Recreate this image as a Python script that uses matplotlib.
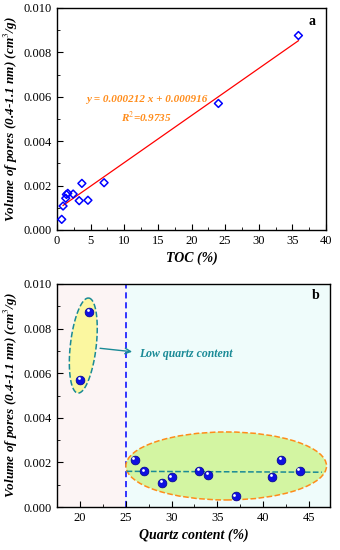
import numpy as np
from matplotlib import pyplot as plt
from matplotlib.patches import Ellipse, Polygon

plt.rcParams['font.family'] = ['Liberation Serif', 'DejaVu Serif']
plt.rcParams['mathtext.fontset'] = 'stix'

# panel a: TOC vs pore volume
toc = [0.7, 0.9, 1.3, 1.4, 1.6, 2.4, 3.3, 3.7, 4.6, 7.0, 24.0, 35.9]
vol_a = [0.00048, 0.00108, 0.00143, 0.00160, 0.00165, 0.00162,
         0.00132, 0.00210, 0.00134, 0.00213, 0.00570, 0.00876]
slope = 0.000212
intercept = 0.000916

# panel b: quartz content vs pore volume
quartz = [20, 21, 26, 27, 29, 30, 33, 34, 37, 41, 42, 44]
vol_b = [0.00570, 0.00875, 0.00210, 0.00160, 0.00108, 0.00133,
         0.00162, 0.00143, 0.00048, 0.00134, 0.00213, 0.00162]
high_quartz_mean = 0.00160

ylab = r'Volume of pores (0.4-1.1 nm) (cm$^{3}$/g)'
teal = '#1a8a96'
orange = '#ff8c1a'


def style_axes(ax):
    ax.tick_params(direction='in', which='both', labelsize=9, top=False, right=False)
    ax.tick_params(which='major', length=4)
    ax.tick_params(which='minor', length=2)
    for s in ax.spines.values():
        s.set_linewidth(1.0)
    ax.set_ylim(0, 0.010)
    ax.set_yticks(np.arange(0, 0.0101, 0.002))
    ax.set_yticks(np.arange(0, 0.0101, 0.001), minor=True)
    ax.yaxis.set_major_formatter(plt.FormatStrFormatter('%.3f'))


fig = plt.figure(figsize=(3.4, 5.5), dpi=100)

# ---- panel a
ax1 = fig.add_axes([57 / 340, 1 - 230 / 550, 269 / 340, 222 / 550])
style_axes(ax1)
ax1.set_xlim(0, 40)
ax1.set_xticks(np.arange(0, 41, 5))
ax1.set_xticks(np.arange(0, 41, 2.5), minor=True)
xl = np.array([min(toc) + 0.2, max(toc)])
ax1.plot(xl, slope * xl + intercept, color='red', lw=0.9, zorder=2)
ax1.scatter(toc, vol_a, marker='D', s=16, facecolors='none',
            edgecolors='blue', linewidths=1.1, zorder=3)
ax1.text(13.3, 0.00588, 'y = 0.000212 x + 0.000916', color=orange,
         fontsize=8, fontweight='bold', fontstyle='italic', ha='center', va='center')
ax1.text(13.3, 0.00508, r'R$^{2}$=0.9735', color=orange,
         fontsize=8, fontweight='bold', fontstyle='italic', ha='center', va='center')
ax1.text(0.96, 0.94, 'a', transform=ax1.transAxes, fontsize=10,
         fontweight='bold', ha='right', va='center')
ax1.set_xlabel('TOC (%)', fontsize=10, fontweight='bold', fontstyle='italic', labelpad=3)
ax1.set_ylabel(ylab, fontsize=9.5, fontweight='bold', fontstyle='italic', labelpad=3)

# ---- panel b
ax2 = fig.add_axes([57 / 340, 1 - 507 / 550, 273 / 340, 223 / 550])
style_axes(ax2)
ax2.set_xlim(17.6, 47.3)
ax2.set_xticks(np.arange(20, 46, 5))
ax2.set_xticks(np.arange(17.5, 47.4, 2.5), minor=True)
ax2.axvspan(17.6, 25, color='#fcf4f4', zorder=0)
ax2.axvspan(25, 47.3, color='#effcfb', zorder=0)
ax2.axvline(25, color='blue', ls=(0, (4, 2.5)), lw=1.1, zorder=1)

# tilted ellipse around the low-quartz samples
t = np.linspace(0, 2 * np.pi, 200)
cx, cy = 20.37, 0.00724
ax_a = np.array([0.60, 0.00213])
ax_b = np.array([1.40, -0.00007])
pts = np.column_stack([cx + np.cos(t) * ax_a[0] + np.sin(t) * ax_b[0],
                       cy + np.cos(t) * ax_a[1] + np.sin(t) * ax_b[1]])
ax2.add_patch(Polygon(pts, closed=True, facecolor='#fbf7a0', edgecolor=teal,
                      ls='--', lw=1.1, zorder=1))
ax2.add_patch(Ellipse((35.97, 0.00184), 21.9, 0.00305,
                      facecolor='#d3f5a2', edgecolor=orange, ls='--', lw=1.1, zorder=1))
ax2.plot([25.1, 46.4], [high_quartz_mean, high_quartz_mean - 0.00004], color=teal,
         ls='--', lw=1.1, zorder=2)
ax2.annotate('', xy=(26.0, 0.00695), xytext=(21.9, 0.00713),
             arrowprops=dict(arrowstyle='->', color=teal, lw=1.0), zorder=3)
ax2.text(26.5, 0.00686, 'Low quartz content', color=teal, fontsize=8.5,
         fontweight='bold', fontstyle='italic', ha='left', va='center')

ax2.scatter(quartz, vol_b, s=40, color='#1010e0', edgecolors='#00008b',
            linewidths=0.5, zorder=4)
ax2.scatter(np.array(quartz) - 0.15, np.array(vol_b) + 0.00008, s=4,
            color='white', linewidths=0, zorder=5)
ax2.text(0.96, 0.95, 'b', transform=ax2.transAxes, fontsize=10,
         fontweight='bold', ha='right', va='center')
ax2.set_xlabel('Quartz content (%)', fontsize=10, fontweight='bold',
               fontstyle='italic', labelpad=3)
ax2.set_ylabel(ylab, fontsize=9.5, fontweight='bold', fontstyle='italic', labelpad=3)

plt.savefig('out.png', dpi=100)
